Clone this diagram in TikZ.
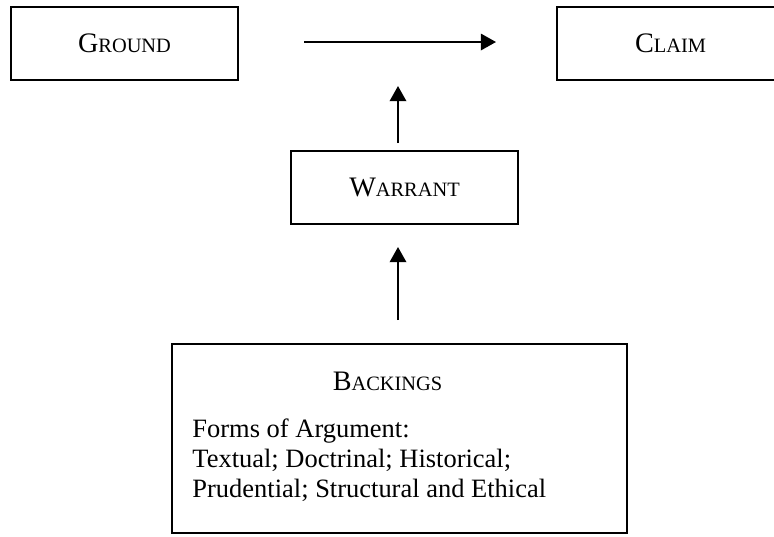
\documentclass[tikz,border=0pt]{standalone}
\usepackage{fontspec}
\setmainfont{Liberation Serif}
\usepackage{tikz}
\usetikzlibrary{arrows.meta}
\newcommand{\px}{0.4608pt}
\newcommand{\fsc}[2]{{\fontsize{13}{15}\selectfont #1}{\fontsize{9.4}{11}\selectfont #2}}

\begin{document}
\begin{tikzpicture}[x = 0.4608pt, y = -0.4608pt,
  box/.style = {draw, line width = 0.9pt, inner sep = 0pt},
  arr/.style = {line width = 0.9pt, -{Triangle[length = 7pt, width = 7.6pt]}}]
\useasboundingbox (0,0) rectangle (774,536);
\node[box, minimum width = 227*\px, minimum height = 73*\px] (ground) at (124.5,43.5) {\fsc{G}{ROUND}};
\node[box, minimum width = 227*\px, minimum height = 73*\px] (claim) at (670.5,43.5) {\fsc{C}{LAIM}};
\node[box, minimum width = 227*\px, minimum height = 73*\px] (warrant) at (404.5,187.5) {\fsc{W}{ARRANT}};
\node[box, minimum width = 455*\px, minimum height = 189*\px] (backings) at (399.5,438.5) {};
\node[anchor = base] (backtitle) at (387.5,390) {\fsc{B}{ACKINGS}};
\foreach \t [count = \i] in {Forms of Argument:, Textual; Doctrinal; Historical;, Prudential; Structural and Ethical}{
  \node[anchor = base west, inner sep = 0pt, font = \fontsize{12.2}{14}\selectfont] (form\i) at (192,407+30*\i) {\t};
}
\coordinate (g0) at (304,42);
\coordinate (g1) at (496,42);
\coordinate (w0) at (398,143);
\coordinate (w1) at (398,86);
\coordinate (b0) at (398,320);
\coordinate (b1) at (398,247);
\draw[arr] (g0) -- (g1);
\draw[arr] (w0) -- (w1);
\draw[arr] (b0) -- (b1);
\end{tikzpicture}
\end{document}
